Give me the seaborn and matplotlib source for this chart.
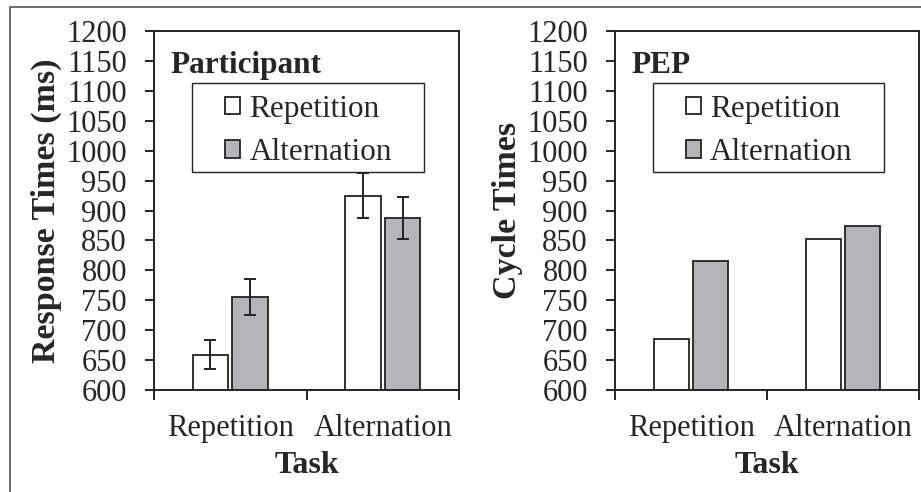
import pandas as pd
import seaborn as sns
import matplotlib.pyplot as plt
from matplotlib.patches import Rectangle

tasks = ["Repetition", "Alternation"]
conditions = ["Repetition", "Alternation"]

# participant response times (ms) and error bars
participant_rt = [659, 756, 925, 887]
participant_err = [24, 30, 37, 35]

# PEP model cycle times
pep_cycles = [685, 815, 852, 874]

yticks = list(range(600, 1201, 50))

sns.set_theme(style="white")
plt.rcParams["font.family"] = ["Liberation Serif", "DejaVu Serif"]
plt.rcParams["axes.linewidth"] = 1.4

gray = "#b4b5b8"
palette = {"Repetition": "white", "Alternation": gray}
ink = "#222222"


def make_df(values):
    rows = []
    i = 0
    for t in tasks:
        for c in conditions:
            rows.append({"Task": t, "Condition": c, "Value": values[i]})
            i += 1
    return pd.DataFrame(rows)


def draw_panel(ax, values, title, ylabel, errs=None):
    df = make_df(values)
    sns.barplot(data=df, x="Task", y="Value", hue="Condition",
                order=tasks, hue_order=conditions, palette=palette,
                edgecolor=ink, linewidth=1.3, width=0.52, gap=0.11,
                errorbar=None, ax=ax)
    if errs is not None:
        bars = [p for p in ax.patches if p.get_height() > 0]
        bars = sorted(bars, key=lambda p: p.get_x())
        xs = [p.get_x() + p.get_width() / 2 for p in bars]
        hs = [p.get_height() for p in bars]
        ax.errorbar(xs, hs, yerr=errs, fmt="none", ecolor=ink,
                    elinewidth=1.4, capsize=4.5, capthick=1.4)
    ax.set_ylim(600, 1200)
    ax.set_yticks(yticks)
    ax.set_yticklabels([str(v) for v in yticks], fontsize=22)
    ax.set_xlim(-0.5, 1.5)
    ax.set_xticks([-0.5, 0.5, 1.5])
    ax.set_xticklabels(["", "", ""])
    ax.set_xticks([0, 1], minor=True)
    ax.set_xticklabels(tasks, minor=True, fontsize=22)
    ax.tick_params(axis="x", which="major", length=7, width=1.4,
                   direction="out", bottom=True, color=ink)
    ax.tick_params(axis="x", which="minor", length=0, pad=17)
    ax.tick_params(axis="y", length=6.5, width=1.4, direction="out",
                   left=True, color=ink, pad=13)
    for s in ax.spines.values():
        s.set_color(ink)
        s.set_visible(True)
    ax.set_xlabel("Task", fontsize=23, fontweight="bold", labelpad=6)
    ax.set_ylabel(ylabel, fontsize=24.5, fontweight="bold", labelpad=3)
    ax.text(0.055, 0.945, title, transform=ax.transAxes, fontsize=22.5,
            fontweight="bold", va="top", ha="left")

    # legend box drawn separately (wide horizontal padding in original)
    ax.add_patch(Rectangle((0.125, 0.607), 0.76, 0.248,
                           transform=ax.transAxes, fill=False,
                           edgecolor=ink, linewidth=1.0, zorder=5))
    ax.legend(loc="upper left", bbox_to_anchor=(0.233, 0.822),
              fontsize=22.5, frameon=False, handlelength=0.48,
              handleheight=0.48, handletextpad=0.3, labelspacing=0.45,
              borderpad=0, borderaxespad=0)


fig = plt.figure(figsize=(9.21, 4.92), dpi=100)
ax1 = fig.add_axes([0.1672, 0.2073, 0.3312, 0.7297])
ax2 = fig.add_axes([0.6678, 0.2073, 0.3300, 0.7297])

draw_panel(ax1, participant_rt, "Participant", "Response Times (ms)",
           errs=participant_err)
draw_panel(ax2, pep_cycles, "PEP", "Cycle Times")

fig.patches.append(Rectangle((10 / 921, -0.05), 1.05, 1 - 7 / 492 + 0.05,
                             transform=fig.transFigure, fill=False,
                             edgecolor="#555555", linewidth=1.2))

fig.savefig("out.png", dpi=100)
